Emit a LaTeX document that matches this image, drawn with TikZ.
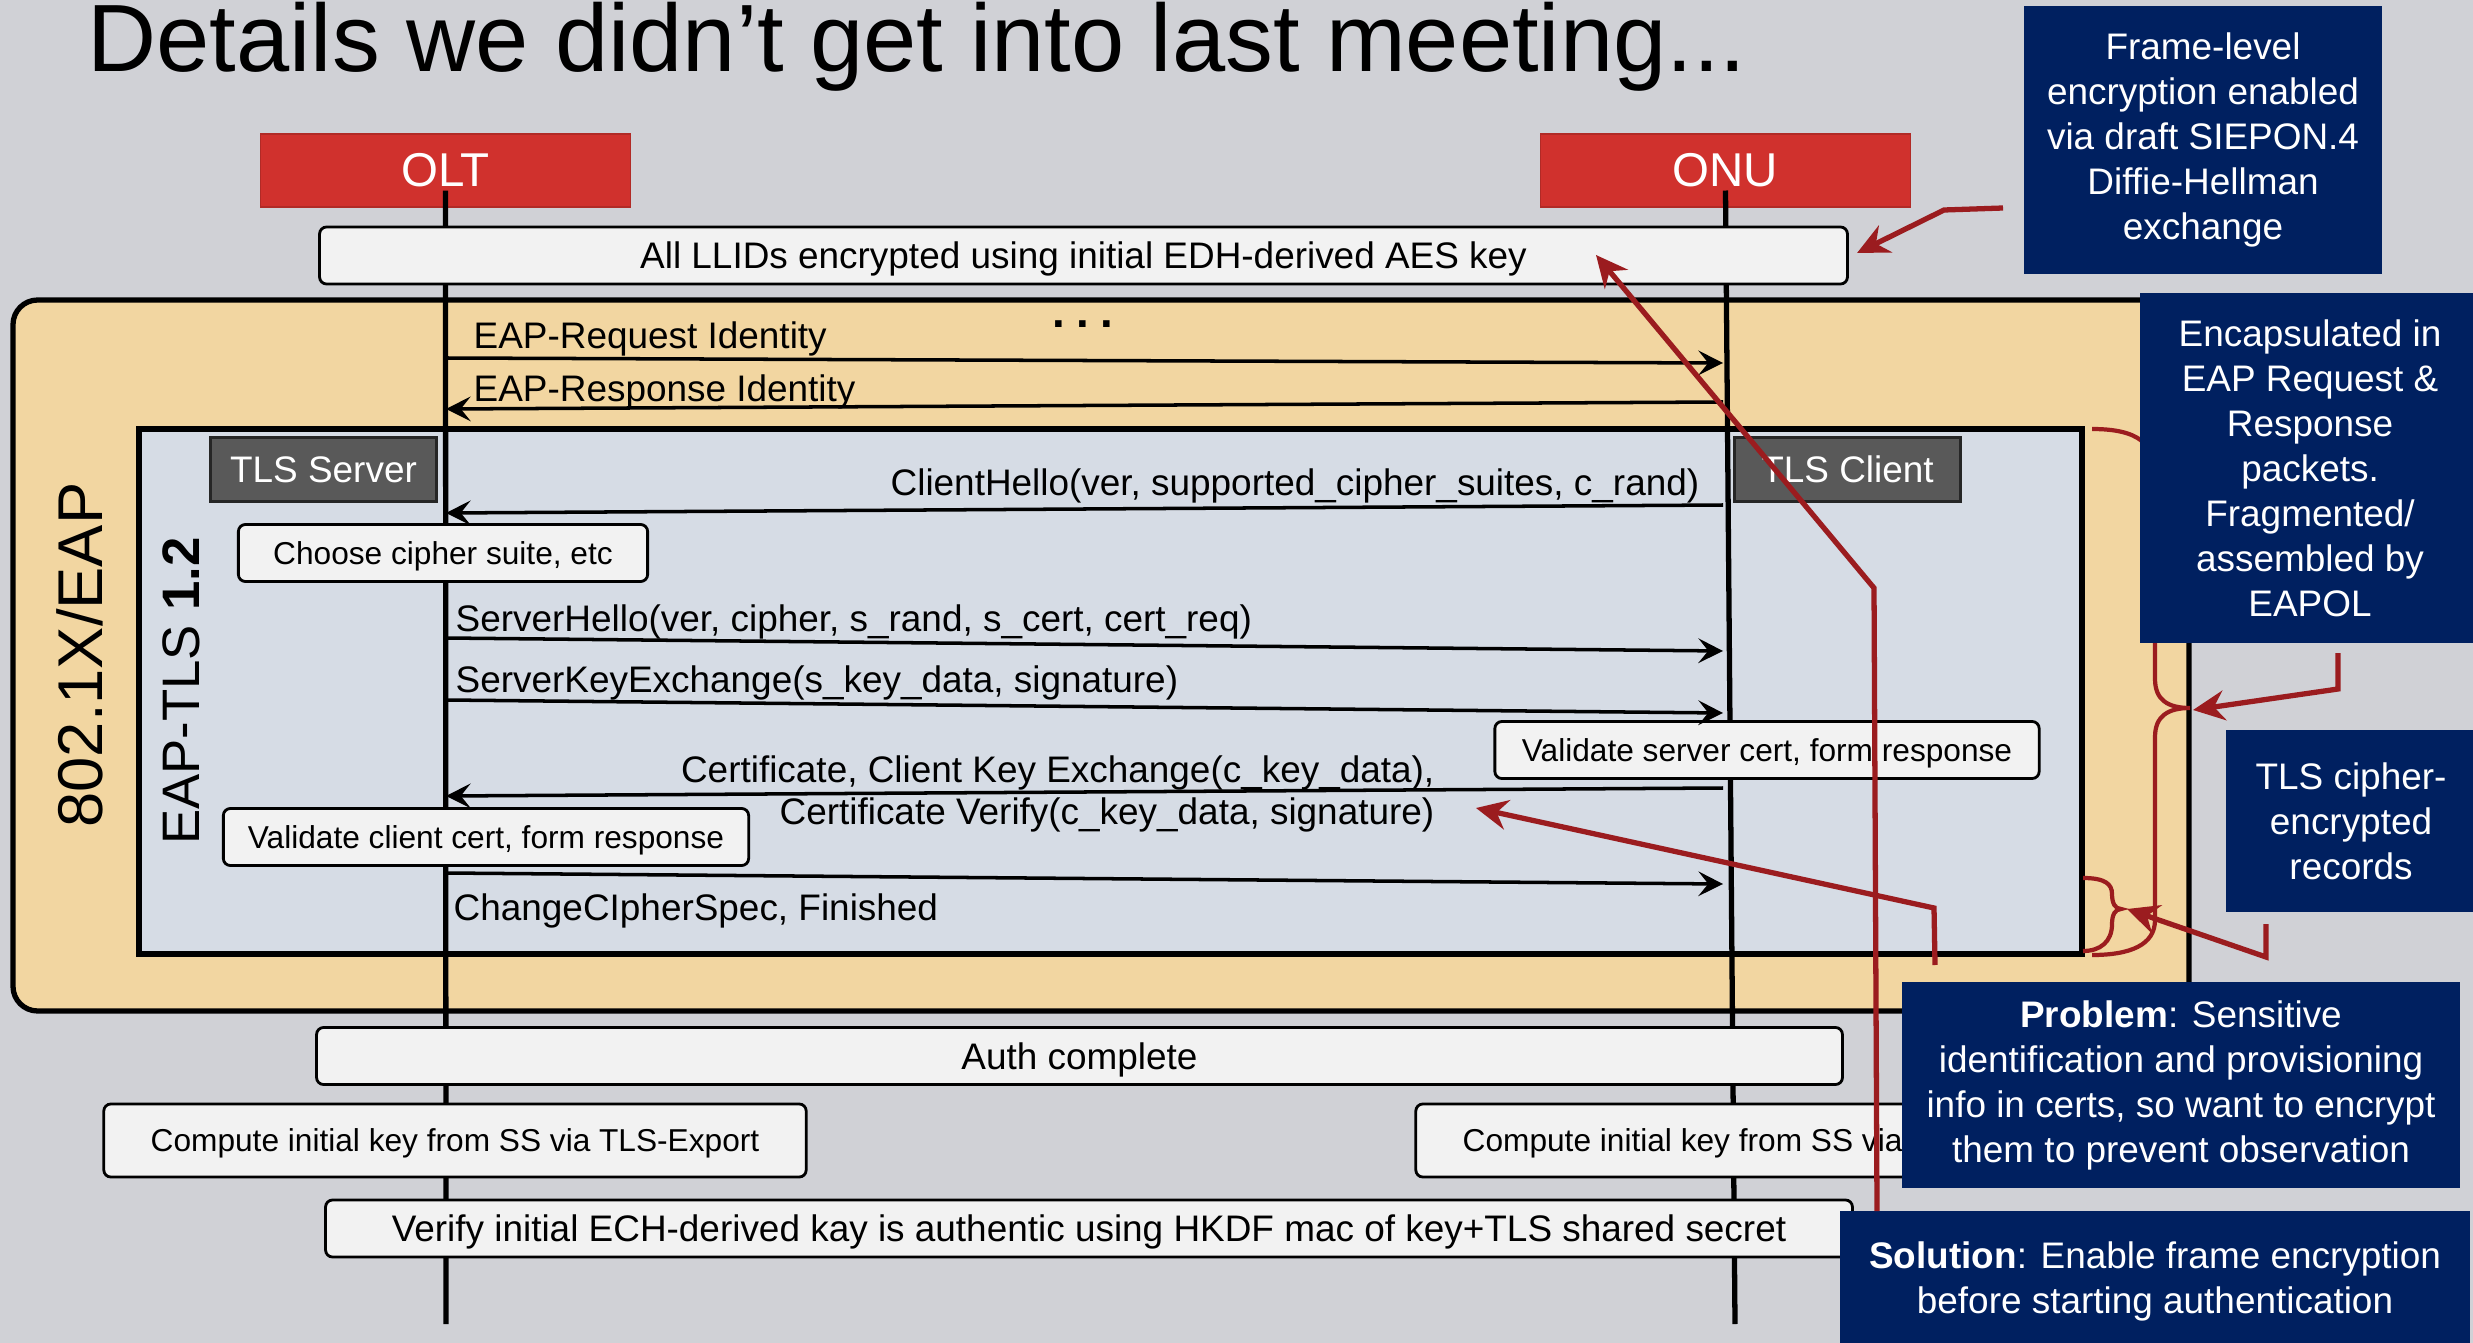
\documentclass[tikz,border=0pt]{standalone}
\usepackage{fontspec}
\setmainfont{Liberation Sans}
\usetikzlibrary{arrows.meta,positioning}

\definecolor{slidebg}{HTML}{D0D1D6}
\definecolor{eapfill}{HTML}{F2D6A1}
\definecolor{tlsfill}{HTML}{D6DCE5}
\definecolor{actorred}{HTML}{D0312D}
\definecolor{rolegray}{HTML}{595959}
\definecolor{notefill}{HTML}{F2F2F2}
\definecolor{navy}{HTML}{002060}
\definecolor{brick}{HTML}{9B1C1F}

\tikzset{
  actor/.style={fill=actorred, draw=actorred!85!black, text=white, minimum width=3.7cm, minimum height=0.73cm, font=\fontsize{13.5}{16}\selectfont},
  role/.style={fill=rolegray, draw=black!85, line width=0.8pt, text=white, minimum width=2.26cm, minimum height=0.64cm, font=\fontsize{10.5}{12.6}\selectfont},
  note/.style={draw, fill=notefill, line width=0.8pt, rounded corners=2pt, minimum height=0.57cm, inner ysep=1pt, text height=10pt, text depth=2.5pt, font=\fontsize{10.5}{12.6}\selectfont},
  smallnote/.style={note, text height=8.6pt, text depth=2.2pt, font=\fontsize{9}{11}\selectfont},
  lifeline/.style={line width=1.5pt},
  msg/.style={line width=1pt, -{Stealth[length=7pt,width=7pt,inset=2.8pt]}},
  msglabel/.style={inner sep=0pt, text height=10pt, text depth=2.5pt, font=\fontsize{10.5}{12}\selectfont},
  callout/.style={fill=navy, text=white, align=center, inner sep=0pt, font=\fontsize{10.5}{12.8}\selectfont},
  pointer/.style={draw=brick, line width=1.5pt, -{Stealth[length=9pt,width=8.5pt,inset=3pt]}},
  bracket/.style={draw=brick, line width=1.2pt},
}

\begin{document}
\begin{tikzpicture}[x=0.01cm, y=-0.01cm]
  \useasboundingbox (0,0) rectangle (2473,1343);
  \fill[slidebg] (0,0) rectangle (2473,1343);

  \node[anchor=base west, inner sep=0pt, font=\fontsize{27.2}{30}\selectfont] (title) at (87,72) {Details we didn’t get into last meeting...};

  % the two nested frames
  \draw[fill=eapfill, line width=1.5pt, rounded corners=7pt] (13,300) rectangle (2189,1011);
  \node[rotate=90, font=\fontsize{18}{20}\selectfont] (eap) at (80,655) {802.1X/EAP};
  \draw[fill=tlsfill, line width=1.5pt] (139,429) rectangle (2082,954);
  \node[rotate=90, font=\fontsize{15}{18}\selectfont] (eaptls) at (181,691) {EAP-TLS \textbf{1.2}};

  % actors and lifelines
  \node[actor] (olt) at (445.5,170.5) {OLT};
  \node[actor] (onu) at (1725.5,170.5) {ONU};
  \coordinate (oltEnd) at (446,1324);
  \coordinate (onuEnd) at (1735,1324);
  \draw[lifeline] ([yshift=-0.2cm]olt.center) -- (oltEnd);
  \draw[lifeline] ([yshift=-0.2cm]onu.center) -- (onuEnd);

  \node[role] (server) at (323.5,469.5) {TLS Server};
  \node[role] (client) at (1847.5,469.5) {TLS Client};

  % boxes on the lifelines
  \node[note, minimum width=15.27cm] (llid) at (1083.5,255.5) {All LLIDs encrypted using initial EDH-derived AES key};
  \node[smallnote, minimum width=4.09cm] (choose) at (443,553) {Choose cipher suite, etc};
  \node[smallnote, minimum width=5.44cm] (valsrv) at (1767,750) {Validate server cert, form response};
  \node[smallnote, minimum width=5.25cm] (valcli) at (486,837) {Validate client cert, form response};
  \node[note, minimum width=15.25cm] (auth) at (1079.5,1056) {Auth complete};
  \node[smallnote, minimum width=7.02cm, minimum height=0.73cm] (keyolt) at (455,1140.5) {Compute initial key from SS via TLS-Export};
  \node[smallnote, minimum width=7.02cm, minimum height=0.73cm] (keyonu) at (1767,1140.5) {Compute initial key from SS via TLS-Export};
  \node[note, minimum width=15.26cm] (verify) at (1089,1228.5) {Verify initial ECH-derived kay is authentic using HKDF mac of key+TLS shared secret};

  % messages
  \foreach \m/\ya/\yb in {req/358/363, resp/409/402, hello/513/505, shello/638/651, skx/700/713, cert/796/788, ccs/873/884} {
    \coordinate (\m-olt) at (446,\ya);
    \coordinate (\m-onu) at (1723,\yb);
  }
  \draw[msg] (req-olt) -- (req-onu);
  \draw[msg] (resp-onu) -- (resp-olt);
  \draw[msg] (hello-onu) -- (hello-olt);
  \draw[msg] (shello-olt) -- (shello-onu);
  \draw[msg] (skx-olt) -- (skx-onu);
  \draw[msg] (cert-onu) -- (cert-olt);
  \draw[msg] (ccs-olt) -- (ccs-onu);

  \node[msglabel, anchor=west] (reqlbl) at (473,335) {EAP-Request Identity};
  \node[msglabel, anchor=west] (resplbl) at (473,388) {EAP-Response Identity};
  \node[inner sep=0pt, font=\bfseries\fontsize{13}{14}\selectfont] (dots) at (1083,324) {.\hspace{3.2pt}.\hspace{3.2pt}.};
  \node[msglabel, anchor=east] (hellolbl) at (1700,482) {ClientHello(ver, supported\_cipher\_suites, c\_rand)};
  \node[msglabel, anchor=west] (shellolbl) at (455,618) {ServerHello(ver, cipher, s\_rand, s\_cert, cert\_req)};
  \node[msglabel, anchor=west] (skxlbl) at (455,679) {ServerKeyExchange(s\_key\_data, signature)};
  \node[inner sep=0pt, font=\fontsize{10.5}{12}\selectfont, anchor=east, align=right] (certlbl) at (1435,794) {Certificate, Client Key Exchange(c\_key\_data),\\Certificate Verify(c\_key\_data, signature)};
  \node[msglabel, anchor=west] (ccslbl) at (453,907) {ChangeCIpherSpec, Finished};

  % braces
  \draw[bracket] (2092,429) .. controls (2140,429) and (2155,445) .. (2155,475) -- (2155,679)
    .. controls (2155,700) and (2168,708) .. (2190,708) .. controls (2168,708) and (2155,716) .. (2155,737)
    -- (2155,920) .. controls (2155,945) and (2130,955) .. (2092,955);
  \draw[bracket] (2083,878) .. controls (2105,878) and (2112,884) .. (2112,894)
    .. controls (2112,903) and (2115,909) .. (2121,909) .. controls (2115,909) and (2112,915) .. (2112,924)
    .. controls (2112,942) and (2100,951) .. (2083,951);

  % callouts
  \node[callout, minimum width=3.58cm, minimum height=2.68cm] (frame) at (2203,140) {Frame-level\\encryption enabled\\via draft SIEPON.4\\Diffie-Hellman\\exchange};
  \node[callout, minimum width=3.4cm, minimum height=3.5cm] (encap) at (2310,468) {Encapsulated in\\EAP Request \&\\Response\\packets.\\Fragmented/\\assembled by\\EAPOL};
  \node[callout, minimum width=2.5cm, minimum height=1.82cm] (cipher) at (2351,821) {TLS cipher-\\encrypted\\records};
  \node[callout, minimum width=5.58cm, minimum height=2.06cm] (problem) at (2181,1085) {\textbf{Problem}: Sensitive\\identification and provisioning\\info in certs, so want to encrypt\\them to prevent observation};
  \node[callout, minimum width=6.3cm, minimum height=1.4cm] (solution) at (2155,1281) {\textbf{Solution}: Enable frame encryption\\before starting authentication};

  % pointers
  \coordinate (frameTail) at (2003,208);
  \coordinate (frameBend) at (1944,210);
  \coordinate (frameTip) at (1857,253);
  \coordinate (solTail) at (1877,1211);
  \coordinate (solBend) at (1874,588);
  \coordinate (solTip) at (1596,255);
  \coordinate (probTail) at (1935,965);
  \coordinate (probBend) at (1934,908);
  \coordinate (probTip) at (1476,808);
  \coordinate (encapTail) at (2338,653);
  \coordinate (encapBend) at (2338,689);
  \coordinate (encapTip) at (2193,710);
  \coordinate (cipherTail) at (2266,924);
  \coordinate (cipherBend) at (2266,957);
  \coordinate (cipherTip) at (2127,909);
  \draw[pointer] (frameTail) -- (frameBend) -- (frameTip);
  \draw[pointer] (solTail) -- (solBend) -- (solTip);
  \draw[pointer] (probTail) -- (probBend) -- (probTip);
  \draw[pointer] (encapTail) -- (encapBend) -- (encapTip);
  \draw[pointer] (cipherTail) -- (cipherBend) -- (cipherTip);
\end{tikzpicture}
\end{document}
